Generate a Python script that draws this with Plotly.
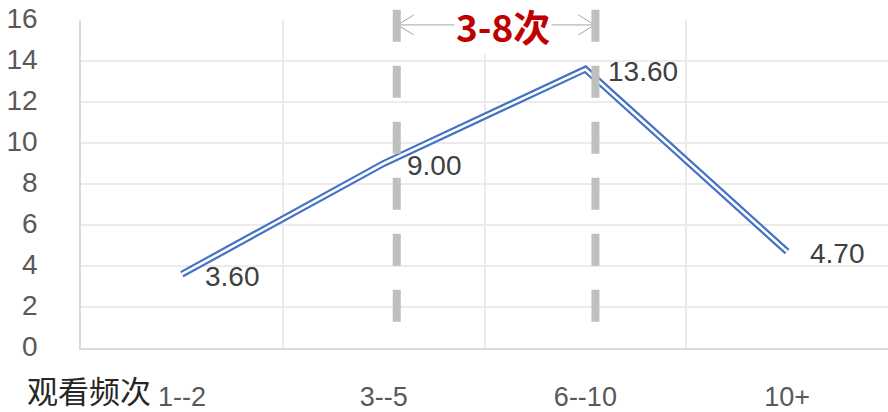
import plotly.graph_objects as go

categories = ["1--2", "3--5", "6--10", "10+"]
values = [3.60, 9.00, 13.60, 4.70]
y_ticks = [0, 2, 4, 6, 8, 10, 12, 14, 16]
axis_title = "观看频次"
bracket_label = "3-8次"
bracket_x = [1.065, 2.05]   # positions of the dashed markers on the category axis

BLUE = "#4472C4"
TXT = "#595959"
GRID = "#EBEBEB"
FONT = "Liberation Sans, Arial, sans-serif"
CJK = "Noto Sans CJK SC, sans-serif"

fig = go.Figure()
# double line: wide blue under a thin white core
fig.add_trace(go.Scatter(x=categories, y=values, mode="lines",
                         line=dict(color=BLUE, width=7), hoverinfo="skip",
                         showlegend=False))
fig.add_trace(go.Scatter(x=categories, y=values, mode="lines",
                         line=dict(color="white", width=2.6), hoverinfo="skip",
                         showlegend=False))

annotations = []
for c, v in zip(categories, values):
    annotations.append(dict(x=c, y=v, xref="x", yref="y", text=f"{v:.2f}",
                            showarrow=False, xanchor="left", yanchor="middle",
                            xshift=21, yshift=-2,
                            font=dict(family=FONT, size=28, color="#404040")))

annotations.append(dict(x=-0.07, y=-0.128, xref="paper", yref="paper",
                        text=axis_title, showarrow=False, xanchor="left",
                        yanchor="middle",
                        font=dict(family=CJK, size=31, color="#262626")))

mid = (bracket_x[0] + bracket_x[1]) / 2
annotations.append(dict(x=mid, y=0.982, xref="x", yref="paper",
                        text=f"<b>{bracket_label}</b>", showarrow=False,
                        xanchor="center", yanchor="middle", bgcolor="white",
                        xshift=7,
                        font=dict(family=CJK, size=37, color="#C00000")))

shapes = []
for bx in bracket_x:
    shapes.append(dict(type="line", xref="x", yref="paper", x0=bx, x1=bx,
                       y0=1.031, y1=0.02, layer="above",
                       line=dict(color="#BFBFBF", width=8, dash="32px,24px")))
# arrow line
shapes.append(dict(type="line", xref="x", yref="paper", x0=bracket_x[0],
                   x1=bracket_x[1], y0=0.985, y1=0.985, layer="below",
                   line=dict(color="#A6A6A6", width=1)))
# open arrowheads
shapes.append(dict(type="path", xref="x", yref="paper", xsizemode="pixel",
                   ysizemode="pixel", xanchor=bracket_x[0], yanchor=0.985,
                   path="M 17,10 L 1,0 L 17,-10", layer="below",
                   line=dict(color="#A6A6A6", width=1)))
shapes.append(dict(type="path", xref="x", yref="paper", xsizemode="pixel",
                   ysizemode="pixel", xanchor=bracket_x[1], yanchor=0.985,
                   path="M -17,10 L -1,0 L -17,-10", layer="below",
                   line=dict(color="#A6A6A6", width=1)))

fig.update_layout(
    width=888, height=412,
    margin=dict(l=81, r=0, t=20, b=58),
    plot_bgcolor="white", paper_bgcolor="white",
    showlegend=False,
    annotations=annotations,
    shapes=shapes,
    xaxis=dict(type="category", categoryorder="array", categoryarray=categories,
               range=[-0.5, 3.5], tickson="boundaries", showgrid=True,
               gridcolor=GRID, gridwidth=1.5, showline=True, linecolor="#D9D9D9",
               linewidth=1.5, ticks="", ticklabelstandoff=24,
               tickfont=dict(family=FONT, size=27, color=TXT), zeroline=False),
    yaxis=dict(range=[0, 16], tickvals=y_ticks, showgrid=True, gridcolor=GRID,
               gridwidth=1.5, showline=True, linecolor="#D9D9D9", linewidth=1.5,
               ticks="", ticklabelstandoff=36, ticklabelshift=-2, zeroline=False,
               tickfont=dict(family=FONT, size=28, color=TXT)),
)

fig.write_html("out.html")
